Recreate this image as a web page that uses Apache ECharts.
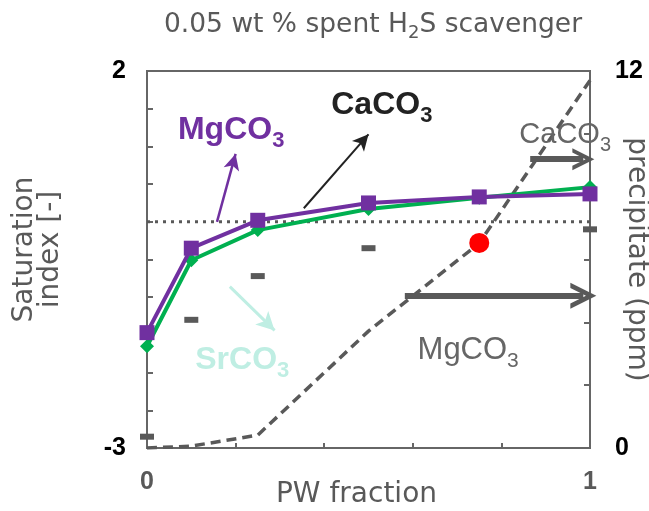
<!DOCTYPE html>
<html><head><meta charset="utf-8">
<script src="https://cdn.jsdelivr.net/npm/echarts@6/dist/echarts.min.js"></script>
<style>html,body{margin:0;padding:0;background:#fff}#c{width:649px;height:511px}</style>
</head><body><div id="c"></div>
<script>
var pwFraction = [0, 0.1, 0.25, 0.5, 0.75, 1];
var siMgCO3 = [-1.47, -0.35, 0.02, 0.25, 0.33, 0.37];
var siCaCO3 = [-1.65, -0.51, -0.11, 0.17, 0.32, 0.46];
var siSrCO3 = [-2.85, -1.30, -0.72, -0.35, -0.28, -0.10];
var precipitate = [0, 0.06, 0.41, 3.72, 6.52, 11.7];
var highlightX = [0.75];
var highlightSI = [-0.28];
var equilibriumX = [0, 1];
var equilibriumSI = [0, 0];

function pairs(xs, ys){ return xs.map(function(x,i){return [x, ys[i]];}); }

var FONT = 'DejaVu Sans';
var ARIAL = 'Liberation Sans';
var chevron = 'path://M0,20 L10,0 L20,20 L16,20 L10,8 L4,20 Z';

function label(text, sub, color, size, bold){
  var ss = Math.round(size*0.68);
  return {
    show:true, position:'inside',
    formatter:'{m|'+text+'}{s|'+sub+'}',
    rich:{
      m:{fontFamily:ARIAL, fontSize:size, fontWeight:bold?'bold':'normal', color:color, lineHeight:size, verticalAlign:'top'},
      s:{fontFamily:ARIAL, fontSize:ss, fontWeight:bold?'bold':'normal', color:color, lineHeight:ss, verticalAlign:'top', padding:[Math.round(size*0.5),0,0,0]}
    }
  };
}
function arrow(x1,y1,x2,y2,color,width,sym,size){
  return [{coord:[x1,y1], symbol:'none', lineStyle:{color:color,width:width,type:'solid'}},
          {coord:[x2,y2], symbol:sym, symbolSize:size, lineStyle:{color:color,width:width,type:'solid'}}];
}
function txt(x,y,lab){
  return {coord:[x,y], symbol:'circle', symbolSize:1, itemStyle:{color:'rgba(0,0,0,0)'}, label:lab};
}

var chart = echarts.init(document.getElementById('c'));
chart.setOption({
  animation:false,
  title:{
    text:'0.05 wt % spent H{s|2}S scavenger', left:368, textAlign:'center', top:3,
    textStyle:{fontFamily:FONT, fontSize:26.5, fontWeight:'normal', color:'#595959',
      rich:{s:{fontFamily:FONT, fontSize:18, color:'#595959', padding:[16,0,0,0]}}}
  },
  grid:{left:147, right:59, top:71, bottom:63, show:true, borderColor:'#666', borderWidth:2, containLabel:false, outerBoundsMode:'none'},
  xAxis:{
    type:'value', min:0, max:1, interval:0.2,
    name:'PW fraction', nameLocation:'middle', nameGap:33, nameMoveOverlap:false,
    nameTextStyle:{fontFamily:FONT, fontSize:28, color:'#595959', padding:[0,24,0,0]},
    axisLine:{onZero:false, lineStyle:{color:'#666', width:2}},
    axisTick:{inside:true, length:5, lineStyle:{color:'#666', width:2}},
    splitLine:{show:false},
    axisLabel:{margin:22, fontFamily:ARIAL, fontSize:25, fontWeight:'bold', color:'#595959',
      formatter:function(v){return (v===0||v===1)?String(v):'';}}
  },
  yAxis:[{
    type:'value', min:-3, max:2, interval:0.5,
    name:'Saturation\nindex [-]', nameLocation:'middle', nameGap:83, nameMoveOverlap:false,
    nameTextStyle:{fontFamily:FONT, fontSize:28, color:'#595959', lineHeight:26, padding:[0,0,0,20]},
    axisLine:{show:true, onZero:false, lineStyle:{color:'#666', width:2}},
    axisTick:{show:true, inside:true, length:6, lineStyle:{color:'#666', width:2}},
    splitLine:{show:false},
    axisLabel:{margin:21, fontFamily:ARIAL, fontSize:25, fontWeight:'bold', color:'#000',
      formatter:function(v){return v===2?'2':(v===-3?'-3':'');}}
  },{
    type:'value', min:0, max:12, interval:2, position:'right',
    name:'precipitate (ppm)', nameLocation:'middle', nameGap:32, nameRotate:-90, nameMoveOverlap:false,
    nameTextStyle:{fontFamily:FONT, fontSize:28, color:'#595959'},
    axisLine:{show:true, onZero:false, lineStyle:{color:'#666', width:2}},
    axisTick:{show:true, inside:true, length:6, lineStyle:{color:'#666', width:2}},
    splitLine:{show:false},
    axisLabel:{margin:25, fontFamily:ARIAL, fontSize:25, fontWeight:'bold', color:'#000',
      formatter:function(v){return (v===12||v===0)?String(v):'';}}
  }],
  series:[
    {type:'line', data:pairs(equilibriumX, equilibriumSI), symbol:'none', silent:true,
     lineStyle:{color:'#595959', width:3, type:[3,5]}, z:1},
    {type:'line', yAxisIndex:1, data:pairs(pwFraction, precipitate), symbol:'none',
     lineStyle:{color:'#595959', width:3.5, type:[10,6]}, z:2},
    {type:'scatter', data:pairs(pwFraction, siSrCO3), symbol:'rect', symbolSize:[14,6],
     itemStyle:{color:'#595959', borderRadius:3, opacity:1}, z:3},
    {type:'line', data:pairs(pwFraction, siCaCO3), symbol:'diamond', symbolSize:14,
     lineStyle:{color:'#00b050', width:4}, itemStyle:{color:'#00b050'}, z:4},
    {type:'line', data:pairs(pwFraction, siMgCO3), symbol:'rect', symbolSize:15,
     lineStyle:{color:'#7030a0', width:4}, itemStyle:{color:'#7030a0'}, z:5},
    {type:'scatter', data:pairs(highlightX, highlightSI), symbol:'circle', symbolSize:20,
     itemStyle:{color:'#ff0000', opacity:1}, z:6,
     markLine:{silent:true, label:{show:false}, symbolKeepAspect:true,
       data:[
         arrow(0.158,0.0,0.200,0.90,'#7030a0',2.5,'arrow',[12,16]),
         arrow(0.354,0.18,0.500,1.16,'#222',2,'arrow',[12,16]),
         arrow(0.187,-0.86,0.288,-1.44,'#bfeee3',3,'arrow',[14,18]),
         arrow(0.865,0.83,0.985,0.83,'#595959',6,chevron,[22,22]),
         arrow(0.582,-0.98,0.985,-0.98,'#595959',6,chevron,[26,26])
       ]},
     markPoint:{silent:true, data:[
       txt(0.19,1.22,label('MgCO','3','#7030a0',32,true)),
       txt(0.53,1.55,label('CaCO','3','#222',32,true)),
       txt(0.215,-1.83,label('SrCO','3','#bfeee3',32,true)),
       txt(0.944,1.15,label('CaCO','3','#666',29,false)),
       txt(0.725,-1.70,label('MgCO','3','#666',31,false))
     ]}
    }
  ]
});
</script></body></html>
